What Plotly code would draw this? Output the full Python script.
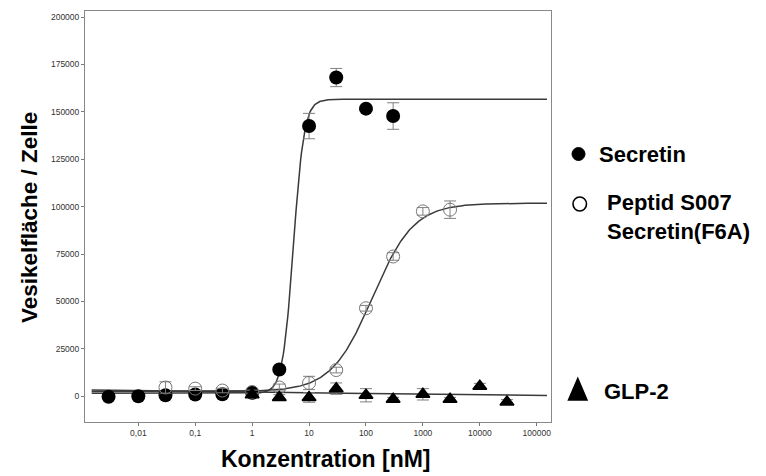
import numpy as np
import plotly.graph_objects as go

# ---------------- data ----------------
sec_x = [0.003, 0.01, 0.03, 0.1, 0.3, 1, 3, 10, 30, 100, 300]
sec_y = [-300, 0, 500, 900, 1000, 1800, 14100, 142500, 168100, 151700, 147800]
sec_err = [600, 600, 800, 800, 1500, 1200, 1500, 6700, 4800, 1000, 7000]

pep_x = [0.03, 0.1, 0.3, 1, 3, 10, 30, 100, 300, 1000, 3000]
pep_y = [4600, 4000, 3000, 2200, 4600, 7000, 13800, 46400, 73700, 97500, 98400]
pep_err = [3000, 1000, 1200, 1000, 1800, 3500, 1500, 1500, 2000, 2000, 4600]

glp_x = [1, 3, 10, 30, 100, 300, 1000, 3000, 10000, 30000]
glp_y = [800, -700, -700, 4000, 500, -1600, 1000, -1600, 5300, -3000]
glp_err = [800, 1500, 2500, 3000, 3500, 1000, 3000, 1000, 1500, 1200]

# fitted sigmoid parameters (y at low x, y at high x, log10 midpoint, slope)
sec_fit = (1500, 156600, np.log10(5.3), 4.6)
pep_fit = (2500, 101800, np.log10(130), 1.2)
glp_fit = (3700, 100, 1.0, 0.25)

x_tickvals = [0.01, 0.1, 1, 10, 100, 1000, 10000, 100000]
x_ticktext = ["0,01", "0,1", "1", "10", "100", "1000", "10000", "100000"]
y_tickvals = [0, 25000, 50000, 75000, 100000, 125000, 150000, 175000, 200000]


def sigmoid(x, p):
    a, b, mid, h = p
    return a + (b - a) / (1 + 10 ** ((mid - np.log10(x)) * h))


xf = np.logspace(-2.82, 5.18, 500)

W, H = 766, 476
L, R, T, B = 85, 551, 11, 422

fig = go.Figure()
line_col = "#3a3a3a"
for p in (sec_fit, pep_fit, glp_fit):
    fig.add_trace(go.Scatter(x=xf, y=sigmoid(xf, p), mode="lines",
                             line=dict(color=line_col, width=1.5),
                             showlegend=False, hoverinfo="skip"))

err_style = dict(type="data", visible=True, color="#808080", thickness=1, width=6)

fig.add_trace(go.Scatter(x=sec_x, y=sec_y, mode="markers",
                         error_y=dict(array=sec_err, **err_style),
                         marker=dict(symbol="circle", size=14, color="black"),
                         showlegend=False))
fig.add_trace(go.Scatter(x=pep_x, y=pep_y, mode="markers",
                         error_y=dict(array=pep_err, **err_style),
                         marker=dict(symbol="circle-open", size=13, color="#777777",
                                     line=dict(width=1)),
                         showlegend=False))
fig.add_trace(go.Scatter(x=glp_x, y=glp_y, mode="markers",
                         error_y=dict(array=glp_err, **err_style),
                         marker=dict(symbol="triangle-up", size=12, color="black",
                                     line=dict(width=1.5, color="black")),
                         showlegend=False))

# invisible trace to create the pixel overlay axis used for legend keys/labels
fig.add_trace(go.Scatter(x=[0], y=[0], mode="markers", marker=dict(opacity=0),
                         xaxis="x2", yaxis="y2", showlegend=False, hoverinfo="skip"))

# legend keys (layout shapes in pixel coordinates of the overlay axis)
fig.add_shape(type="circle", xref="x2", yref="y2", x0=572, x1=585, y0=147.5, y1=160.5,
              fillcolor="black", line=dict(color="black", width=1))
fig.add_shape(type="circle", xref="x2", yref="y2", x0=573, x1=586.5, y0=197, y1=211,
              fillcolor="rgba(0,0,0,0)", line=dict(color="black", width=1.6))
fig.add_shape(type="path", xref="x2", yref="y2",
              path="M 568.5 400 L 587 400 L 577.8 378.5 Z",
              fillcolor="black", line=dict(color="black", width=1.5))

font_b = "Liberation Sans, Arial, sans-serif"
leg_size = 22
fig.add_annotation(x=597, y=154, xref="x2", yref="y2", text="<b>Secretin</b>",
                   showarrow=False, xanchor="left", yanchor="middle",
                   font=dict(family=font_b, size=leg_size, color="black"))
fig.add_annotation(x=605, y=217, xref="x2", yref="y2",
                   text="<b>Peptid S007</b><br><b>Secretin(F6A)</b>",
                   showarrow=False, xanchor="left", yanchor="middle", align="left",
                   font=dict(family=font_b, size=leg_size, color="black"))
fig.add_annotation(x=602, y=391, xref="x2", yref="y2", text="<b>GLP-2</b>",
                   showarrow=False, xanchor="left", yanchor="middle",
                   font=dict(family=font_b, size=leg_size, color="black"))
fig.add_annotation(x=326, y=459, xref="x2", yref="y2", text="<b>Konzentration [nM]</b>",
                   showarrow=False, xanchor="center", yanchor="middle",
                   font=dict(family=font_b, size=23, color="black"))
fig.add_annotation(x=29, y=218, xref="x2", yref="y2", text="<b>Vesikelfläche / Zelle</b>",
                   showarrow=False, xanchor="center", yanchor="middle", textangle=-90,
                   font=dict(family=font_b, size=22.5, color="black"))

tick_font = dict(family=font_b, size=8.5, color="#333333")
fig.update_layout(
    width=W, height=H,
    margin=dict(l=0, r=0, t=0, b=0),
    paper_bgcolor="white", plot_bgcolor="rgba(0,0,0,0)",
    xaxis=dict(type="log", domain=[L / W, R / W], range=[-2.937, 5.251],
               tickvals=x_tickvals, ticktext=x_ticktext, ticks="outside", ticklen=3,
               tickcolor="#777777", showline=True, linecolor="#888888", linewidth=1,
               mirror=True, showgrid=False, zeroline=False, tickfont=tick_font,
               automargin=False),
    yaxis=dict(domain=[(H - B) / H, (H - T) / H], range=[-13600, 203200],
               tickvals=y_tickvals, ticks="outside", ticklen=3, tickformat="d",
               tickcolor="#777777", showline=True, linecolor="#888888", linewidth=1,
               mirror=True, showgrid=False, zeroline=False, tickfont=tick_font,
               automargin=False),
    xaxis2=dict(domain=[0, 1], range=[0, W], visible=False,
                anchor="y2", fixedrange=True),
    yaxis2=dict(domain=[0, 1], range=[H, 0], visible=False, anchor="x2",
                fixedrange=True),
    showlegend=False,
)

fig.write_html("out.html", config={"displayModeBar": False},
               post_script="document.body.style.margin='0px';document.body.style.overflow='hidden';")
